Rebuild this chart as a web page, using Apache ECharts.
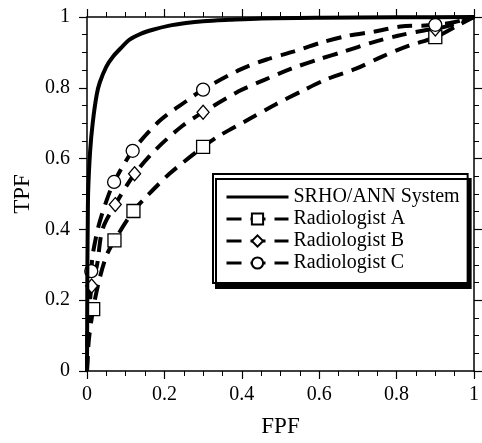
<!DOCTYPE html>
<html>
<head>
<meta charset="utf-8">
<script src="https://cdn.jsdelivr.net/npm/echarts@6/dist/echarts.min.js"></script>
<style>
  html, body { margin: 0; padding: 0; background: #fff; }
  #main { width: 482px; height: 443px; }
</style>
</head>
<body>
<div id="main"></div>
<script>
// ROC curves: FPF (x) vs TPF (y)
var xTicks = [0, 0.2, 0.4, 0.6, 0.8, 1];
var seriesNames = ['SRHO/ANN System', 'Radiologist A', 'Radiologist B', 'Radiologist C'];

var sysCurve = [[0,0],[0.0005,0.15],[0.001,0.3],[0.002,0.42],[0.003,0.507],[0.008,0.62],
  [0.015,0.703],[0.025,0.78],[0.033,0.815],[0.05,0.86],[0.067,0.888],[0.09,0.915],
  [0.11,0.936],[0.14,0.953],[0.17,0.964],[0.21,0.975],[0.256,0.983],[0.3,0.988],
  [0.367,0.992],[0.45,0.996],[0.6,0.998],[0.8,0.999],[1,1]];

// dashed fitted curves (without the operating points)
var aCurve = [[0,0],[0.005,0.09],[0.03,0.25],[0.05,0.325],[0.154,0.493],[0.213,0.557],
  [0.341,0.664],[0.418,0.711],[0.487,0.753],[0.554,0.79],[0.623,0.826],[0.695,0.854],
  [0.764,0.889],[0.832,0.919],[0.965,0.98],[1,1]];
var bCurve = [[0,0],[0.004,0.14],[0.026,0.3],[0.04,0.4],[0.179,0.627],[0.246,0.692],
  [0.392,0.79],[0.46,0.823],[0.528,0.854],[0.597,0.88],[0.666,0.903],[0.734,0.927],
  [0.803,0.947],[0.871,0.962],[0.95,0.98],[1,1]];
var cCurve = [[0,0],[0.003,0.16],[0.015,0.33],[0.03,0.41],[0.05,0.48],[0.187,0.706],
  [0.256,0.762],[0.397,0.852],[0.464,0.88],[0.533,0.902],[0.603,0.927],[0.674,0.947],
  [0.743,0.959],[0.81,0.973],[0.874,0.976],[0.948,0.985],[1,1]];

// radiologist operating points
var aPoints = [[0.016,0.175],[0.071,0.369],[0.12,0.452],[0.3,0.633],[0.9,0.943]];
var bPoints = [[0.012,0.24],[0.073,0.47],[0.123,0.557],[0.3,0.731],[0.9,0.966]];
var cPoints = [[0.011,0.282],[0.07,0.534],[0.118,0.622],[0.3,0.795],[0.9,0.978]];

function merge(curve, points) {
  var all = [];
  curve.forEach(function (p) { all.push({ value: p, symbol: 'none' }); });
  points.forEach(function (p) { all.push({ value: p }); });
  all.sort(function (a, b) { return a.value[0] - b.value[0]; });
  return all;
}

var font = 'Liberation Serif';

function radSeries(name, symbol, size, curve, points) {
  return {
    name: name,
    type: 'line',
    data: merge(curve, points),
    smooth: 0.3,
    symbol: symbol,
    symbolSize: size,
    showAllSymbol: true,
    lineStyle: { color: '#000', width: 4, type: [15, 9] },
    itemStyle: { color: '#fff', borderColor: '#000', borderWidth: 1.3 },
    z: 3
  };
}

function axisBase(pos) {
  return {
    type: 'value',
    position: pos,
    min: 0, max: 1, interval: 0.2,
    axisLine: { show: true, onZero: false, lineStyle: { color: '#000', width: 1.5 } },
    axisTick: { show: true, inside: false, length: 8, lineStyle: { color: '#000', width: 1.2 } },
    minorTick: { show: true, splitNumber: 4, length: 5, lineStyle: { color: '#000', width: 1 } },
    splitLine: { show: false },
    axisLabel: { show: false }
  };
}

var xMain = axisBase('bottom');
xMain.name = 'FPF';
xMain.nameLocation = 'middle';
xMain.nameGap = 44;
xMain.nameTextStyle = { fontFamily: font, fontSize: 23, color: '#000' };
xMain.axisLabel = { show: true, margin: 14, fontFamily: font, fontSize: 20, color: '#000',
  formatter: function (v) { return xTicks.indexOf(Math.round(v * 10) / 10) >= 0 ? String(Math.round(v * 10) / 10) : ''; } };

var yMain = axisBase('left');
yMain.name = 'TPF';
yMain.nameLocation = 'middle';
yMain.nameGap = 52;
yMain.nameTextStyle = { fontFamily: font, fontSize: 23, color: '#000' };
yMain.axisLabel = { show: true, margin: 17, fontFamily: font, fontSize: 20, color: '#000' };

var option = {
  backgroundColor: '#fff',
  animation: false,
  grid: { left: 87, right: 5, top: 17, bottom: 69 },
  xAxis: [xMain, axisBase('top')],
  yAxis: [yMain, axisBase('right')],
  legend: {
    data: seriesNames,
    orient: 'vertical',
    left: 213,
    top: 174,
    itemWidth: 62,
    itemHeight: 14,
    itemGap: 0,
    padding: [12, 8, 9, 12],
    backgroundColor: '#fff',
    borderColor: '#000',
    borderWidth: 2,
    borderRadius: 0,
    shadowColor: '#000',
    shadowBlur: 0,
    shadowOffsetX: 3,
    shadowOffsetY: 5,
    lineStyle: { width: 3 },
    textStyle: { fontFamily: font, fontSize: 20, lineHeight: 22, color: '#000' },
    selectedMode: false
  },
  series: [
    {
      name: seriesNames[0],
      type: 'line',
      data: sysCurve,
      smooth: 0.3,
      symbol: 'none',
      lineStyle: { color: '#000', width: 4 },
      itemStyle: { color: 'transparent', borderWidth: 0 },
      z: 4
    },
    radSeries(seriesNames[1], 'rect', 13, aCurve, aPoints),
    radSeries(seriesNames[2], 'diamond', [12, 14], bCurve, bPoints),
    radSeries(seriesNames[3], 'circle', 13, cCurve, cPoints)
  ]
};

var myChart = echarts.init(document.getElementById('main'));
myChart.setOption(option);
</script>
</body>
</html>
